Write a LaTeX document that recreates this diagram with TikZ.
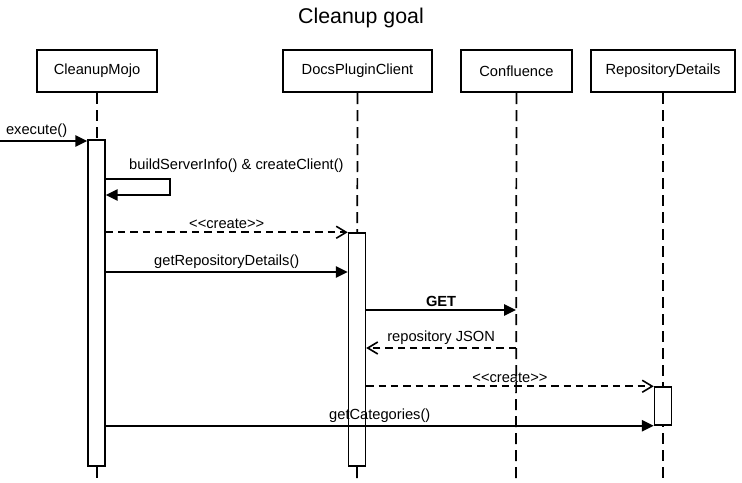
\documentclass[tikz,border=0pt]{standalone}
\usepackage{fontspec}
\setmainfont{Liberation Sans}
\usepackage{tikz}
\usetikzlibrary{arrows.meta,positioning}
\tikzset{head/.style={rectangle,draw,line width=1.7pt,minimum height=31.5pt,inner sep=0pt,font=\fontsize{11}{13}\selectfont},
         bar/.style={rectangle,draw,fill=white,line width=1.1pt,minimum width=12.75pt,inner sep=0pt},
         life/.style={line width=1.3pt,dash pattern=on 8.25pt off 4.5pt},
         msg/.style={line width=1.2pt,-{Triangle[length=9pt,width=8.5pt]}},
         ret/.style={line width=1.2pt,dash pattern=on 5.5pt off 3.75pt,-{Straight Barb[length=7.5pt,width=9pt,line width=1.2pt]}},
         lbl/.style={above,inner sep=2pt,font=\fontsize{11}{13}\selectfont}}

\begin{document}
\begin{tikzpicture}[x=0.75pt,y=-0.75pt]
        \useasboundingbox (0,0) rectangle (742,482);
        \node[font=\fontsize{16}{19}\selectfont] (t) at (361,18) {Cleanup goal};

        \node[head,minimum width=90pt] (a) at (97,71) {CleanupMojo};
        \node[head,minimum width=111.75pt] (b) at (357.5,71) {DocsPluginClient};
        \node[head,minimum width=83.25pt] (c) at (516.5,71) {Confluence};
        \node[head,minimum width=108pt] (d) at (663,71) {RepositoryDetails};

        \coordinate (ae) at (97,482);
        \coordinate (be) at (357,482);
        \coordinate (ce) at (516,482);
        \coordinate (de) at (663,482);
        \draw [life] (a) to (ae);
        \draw [life] (b) to (be);
        \draw [life] (c) to (ce);
        \draw [life] (d) to (de);

        \node[bar,minimum height=244.5pt] (ba) at (96.5,303) {};
        \node[bar,minimum height=174.75pt] (bb) at (357,349.5) {};
        \node[bar,minimum height=28.5pt] (bd) at (663,406) {};

        \coordinate (in) at (0,141);
        \draw [msg] (in) to node[lbl,pos=0.42]{execute()} (ba.west |- in);
        \draw [msg] (ba.east |- 0,179) node[above right,inner sep=0pt,xshift=17pt,yshift=4pt,font=\fontsize{11}{13}\selectfont]{buildServerInfo() \& createClient()}
            -- (170,179) -- (170,195) -- (ba.east |- 0,195);
        \draw [ret] (ba.east |- bb.north) to node[lbl]{{<}{<}create{>}{>}} (bb.north west);
        \draw [msg] (ba.east |- 0,272) to node[lbl]{getRepositoryDetails()} (bb.west |- 0,272);
        \draw [msg] (bb.east |- 0,310) to node[lbl,font=\fontsize{11}{13}\selectfont\bfseries]{GET} (ce |- 0,310);
        \draw [ret] (ce |- 0,348) to node[lbl]{repository JSON} (bb.east |- 0,348);
        \draw [ret] (bb.east |- bd.north) to node[lbl]{{<}{<}create{>}{>}} (bd.north west);
        \draw [msg] (ba.east |- bd.south) to node[lbl]{getCategories()} (bd.south west);
    \end{tikzpicture}
\end{document}
